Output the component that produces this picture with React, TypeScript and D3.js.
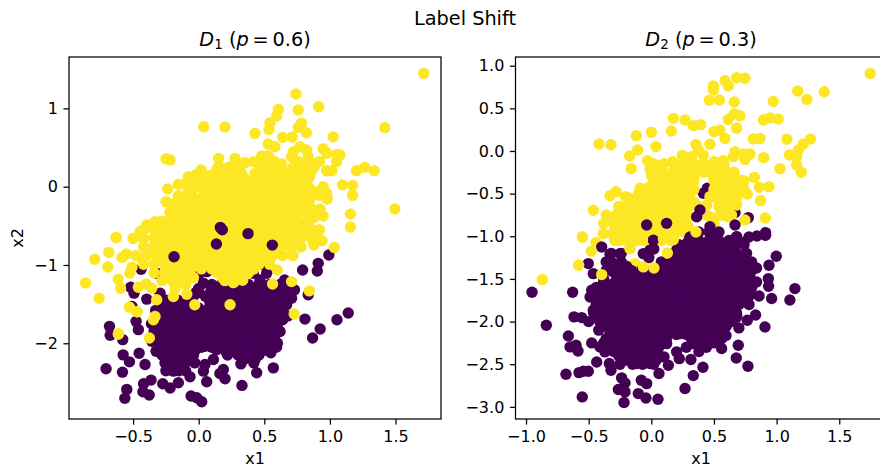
import React, { useRef, useEffect } from 'react';
import * as d3 from 'd3';

type Pt = [number, number];

const PURPLE = '#440154';
const YELLOW = '#fde725';

const row = (y: number, xs: number[]): Pt[] => xs.map(x => [x, y] as Pt);

// D1 panel: drawn back to front
const d1Purple: Pt[] = [
  [.992,-.873],[.911,-.979],[.904,-1.076],[.792,-1.064],[.655,-1.191],[.492,-.992],[.518,-1.106],[.73,-1.318],[.668,-1.326],[.708,-1.424],
  [.835,-1.381],[.632,-1.551],[.67,-1.508],[1.14,-1.614],[1.054,-1.699],[.81,-1.691],[.926,-1.818],[.868,-1.932],[.607,-1.839],[.594,-2.047],
  [.518,-2.089],[.569,-2.314],[.442,-2.377],[.429,-2.208],[.391,-2.165],[.322,-2.263],[.33,-2.538],[.201,-2.453],[.162,-2.386],[.188,-2.335],
  [.061,-2.492],[.036,-2.356],[.048,-2.271],[.112,-2.208],[.137,-2.081],[.023,-2.746],[-.015,-2.695],[-.058,-2.674],[-.066,-2.428],[-.155,-2.504],
  [-.193,-2.356],[-.257,-2.25],[-.104,-2.25],[-.218,-2.572],[-.274,-2.517],[-.363,-2.47],[-.42,-2.517],[-.425,-2.619],[-.377,-2.661],[-.548,-2.589],
  [-.563,-2.703],[-.581,-2.369],[-.706,-2.326],[-.528,-2.237],[-.576,-2.148],[-.454,-2.127],[-.409,-2.271],[-.325,-2.102],[-.68,-1.784],[-.675,-1.898],
  [-.579,-1.953],[-.46,-1.826],[-.477,-1.72],[-.358,-1.975],[-.508,-1.53],[-.396,-1.436],[-.328,-1.58],[-.493,-1.36],[-.518,-1.284],[-.439,-1.055],
  [-.32,-1.106],[-.294,-1.36],[-.231,-1.466],[-.244,-1.614],[-.117,-1.572],[-.193,-1.742],[-.269,-1.869],[-.168,-1.911],[-.269,-2.038],[-.142,-2.08],
  [-.041,-1.953],[.048,-2.038],[.01,-1.742],[.112,-1.614],[-.015,-1.36],[-.003,-1.127],[.061,-1.085],[.036,-1.233],[.163,-1.318],[.315,-1.36],
  [.365,-1.275],[.467,-1.191],[.416,-1.106],[.442,-1.445],[.543,-1.614],[.492,-1.742],[.543,-1.953],[.416,-2.038],[.289,-2.123],[.213,-2.123],
  [.239,-1.826],[.137,-1.784],[.086,-1.48],[.34,-1.61],[.34,-1.86],[-.04,-1.65],[-.117,-1.78],[.112,-1.95],[.239,-1.99],[.467,-1.86],
  [.569,-1.7],[.213,-1.48],[-.193,-2.2],[-.218,-2.08],[.391,-1.48],[.061,-1.82],[-.09,-1.47],[.3,-1.25],[.18,-1.22],[.4,-1.68],
  [.27,-1.72],[.65,-1.65],[-.3,-1.72],[-.1,-1.9],[.33,-2.0],[.46,-2.12],[.55,-2.12],[.15,-1.68],[-.03,-2.1],[.59,-1.45],
  ...row(-1.25, [.1,.2,.38,.46,.54,.62]),
  ...row(-1.3, [0,.1,.2,.3,.42,.5,.58]),
  ...row(-1.35, [-.02,.09,.17,.25,.33,.41,.49,.57,.65]),
  ...row(-1.4, [-.04,.05,.13,.21,.29,.37,.45,.53,.6]),
  ...row(-1.45, [-.25,-.16,.09,.17,.25,.33,.41,.49,.57,.65]),
  ...row(-1.5, [-.2,-.12,.13,.21,.29,.37,.45,.53,.61]),
  ...row(-1.55, [-.3,-.24,-.16,-.08,0,.08,.16,.24,.32,.4,.48,.56,.64]),
  ...row(-1.6, [-.2,-.12,-.04,.04,.2,.28,.36,.44,.52,.6]),
  ...row(-1.65, [-.3,-.2,-.12,-.04,.04,.12,.2,.28,.36,.44,.52,.6,.68]),
  ...row(-1.7, [-.24,-.16,-.08,0,.08,.16,.24,.32,.4,.48,.56,.64]),
  ...row(-1.75, [-.36,-.28,-.2,-.12,-.04,.04,.12,.2,.28,.36,.44,.52,.6]),
  ...row(-1.8, [-.28,-.2,-.12,-.04,.04,.12,.2,.28,.36,.44,.52,.6]),
  ...row(-1.85, [-.34,-.26,-.18,-.1,-.02,.06,.14,.22,.3,.38,.46,.54,.62]),
  ...row(-1.9, [-.32,-.24,-.16,-.08,0,.08,.16,.24,.32,.4,.48,.56]),
  ...row(-1.95, [-.3,-.22,-.14,-.06,.02,.1,.18,.26,.34,.42,.5,.58]),
  ...row(-2, [-.28,-.2,-.12,-.04,.04,.12,.2,.28,.36,.44,.52,.6]),
  ...row(-2.05, [-.3,-.22,-.14,-.06,.02,.1,.18,.26,.34,.42,.5,.58]),
  ...row(-2.1, [-.3,-.22,-.14,-.06,.22,.3,.38,.46,.54]),
  ...row(-2.15, [-.28,-.2,-.12,-.04,.22,.3,.38,.46]),
  ...row(-2.2, [-.25,-.17,-.1,.35,.42]),
  ...row(-2.25, [-.2,-.12,-.03,.42]),
  ...row(-2.3, [-.2,-.12]),
  ...row(-2.35, [-.25,-.15,-.1]),
];
const d1Yellow: Pt[] = [
  [1.716,1.447],[.741,1.183],[.914,1.021],[.607,.987],[.759,.979],[.594,.902],[.543,.817],[.784,.809],[.536,.732],[.038,.766],
  [.2,.762],[.429,.681],[.759,.757],[.822,.689],[1.419,.753],[1.025,.634],[.64,.63],[.713,.634],[.53,.545],[.581,.511],
  [.772,.511],[.949,.485],[.822,.468],[.721,.447],[.708,.383],[1.051,.409],[1.076,.404],[.975,.426],[.873,.298],[1.051,.319],
  [.835,.383],[-.249,.357],[-.218,.34],[.152,.362],[.277,.362],[.353,.306],[.48,.391],[.53,.391],[.467,.298],[.632,.289],
  [.018,.213],[-.015,.157],[-.079,.128],[.137,.213],[.188,.234],[.264,.213],[.327,.17],[.429,.17],[.569,.213],[1.203,.204],
  [1.266,.247],[1.338,.204],[.975,.204],[1.015,.204],[.741,.213],[.843,.119],[.784,.106],[.594,.094],[.467,.064],[.112,.128],
  [-.053,.021],[-.003,0],[-.155,.03],[-.236,-.03],[-.155,-.115],[-.249,-.191],[-.152,-.255],[-.015,-.2],[.048,-.064],[.124,-.043],
  [.949,0],[1.096,.021],[1.173,.017],[1.173,-.111],[.975,-.085],[.98,-.157],[.853,-.14],[.695,.013],[.759,0],[1.495,-.285],
  [1.157,-.349],[1.157,-.515],[.949,-.374],[.924,-.289],[.878,-.298],[.797,-.277],[.695,-.234],[.619,-.17],[.518,-.085],[.365,-.043],
  [.213,-.128],[.315,.043],[.239,.043],[-.071,-.319],[-.142,-.319],[.086,-.234],[.036,-.34],[.188,-.362],[.289,-.255],[.416,-.255],
  [.569,-.298],[.67,-.426],[.797,-.468],[.835,-.596],[.898,-.617],[.734,-.617],[-.332,-.447],[-.396,-.489],[-.307,-.532],[-.447,-.574],
  [-.629,-.651],[-.129,-.468],[-.155,-.574],[-.066,-.426],[.061,-.468],[.315,-.426],[.467,-.426],[.594,-.468],[.213,-.51],
  [-.629,-.648],[-.434,-.64],[-.32,-.62],[-.685,-.839],[-.551,-.86],[-.584,-.903],[-.792,-.928],[-.693,-1.025],[-.508,-1.03],[-.525,-1.106],
  [-.863,-1.229],[-.614,-1.182],[-.596,-1.297],[-.759,-1.424],[-.401,-1.242],[-.358,-1.297],[-.46,-1.284],[-.32,-1.445],[-.528,-1.538],[-.47,-1.597],
  [-.345,-1.7],[-.612,-1.881],[-.376,-1.932],[-.333,-1.657],[-.193,-1.403],[-.091,-1.373],[.264,-1.225],[.335,-1.191],[.563,-1.242],[.708,-1.212],
  [1.033,-.775],[.94,-.691],[.878,-.746],[.714,-.873],[.619,-.852],[.805,-.597],[.893,-.619],[.708,-.746],[-.424,-.945],[-.345,-.767],
  [-.294,-.936],[-.218,-1.021],[-.168,-1.148],[-.18,-1.297],[-.091,-1.106],[-.041,-.979],[.061,-.894],[.213,-1.106],[.289,-1.021],[.365,-.979],
  [.441,-.852],[.518,-.767],[.594,-.682],[-.168,-.809],[-.041,-.725],[.01,-.597],[.163,-.852],[.264,-.767],[.365,-.682],[.467,-.619],
  [-.269,-.682],[-.218,-.6],[-.32,-.852],
  ...row(.32, [.42,.5,.58,.76,.84,.92]),
  ...row(.25, [.15,.23,.31,.47,.55,.72,.8,.88]),
  ...row(.2, [.2,.28,.5,.62,.7,.78,.86]),
  ...row(.14, [-.02,.08,.16,.24,.32,.5,.58,.66,.74,.82]),
  ...row(.09, [.04,.12,.2,.28,.36,.44,.52,.6,.68,.76]),
  ...row(.04, [-.1,.06,.14,.22,.3,.38,.46,.54,.62,.72]),
  ...row(-.01, [.02,.1,.18,.26,.34,.42,.5,.58,.66,.8,.84]),
  ...row(-.06, [-.08,.1,.18,.26,.34,.42,.5,.58,.66,.74,.88]),
  ...row(-.11, [-.05,.04,.12,.2,.28,.36,.44,.52,.6,.68,.76,.84,.92]),
  ...row(-.17, [-.1,0,.08,.16,.24,.32,.4,.48,.56,.64,.72,.8]),
  ...row(-.22, [-.2,-.12,-.04,.04,.12,.2,.28,.36,.44,.52,.6,.68,.76,.84]),
  ...row(-.28, [-.15,-.06,.02,.1,.18,.26,.34,.42,.5,.58,.66,.74,.82]),
  ...row(-.33, [-.22,-.14,-.06,.02,.1,.18,.26,.34,.42,.5,.58,.66,.74,.82,.9]),
  ...row(-.39, [-.2,-.1,-.02,.06,.14,.22,.3,.38,.46,.54,.62,.7,.88]),
  ...row(-.44, [-.28,-.2,-.12,-.04,.04,.12,.2,.28,.36,.44,.52,.6,.68,.76,.84]),
  ...row(-.5, [-.22,-.14,-.06,.02,.1,.18,.26,.34,.42,.5,.58,.66,.74]),
  ...row(-.55, [-.42,-.34,-.26,-.18,-.1,-.02,.06,.14,.22,.3,.38,.46,.54,.62,.7,.78,.86,.92]),
  ...row(-.6, [-.26,-.18,-.1,-.02,.06,.14,.22,.3,.38,.46,.54,.62,.7,.78]),
  ...row(-.66, [-.5,-.42,-.34,-.26,-.18,-.1,-.02,.06,.14,.22,.3,.38,.46,.54,.62,.7,.78,.86]),
  ...row(-.72, [-.3,-.22,-.14,-.06,.02,.1,.18,.26,.34,.42,.5,.58,.66]),
  ...row(-.77, [-.42,-.34,-.26,-.18,-.1,-.02,.06,.14,.22,.3,.38,.46,.54,.62,.7,.78]),
  ...row(-.83, [-.28,-.2,-.12,-.04,.04,.12,.2,.28,.36,.44,.52,.6]),
  ...row(-.88, [-.48,-.4,-.32,-.24,-.16,-.08,0,.08,.16,.24,.32,.4,.48,.56,.64,.72]),
  ...row(-.94, [-.26,-.18,-.1,-.02,.06,.14,.22,.3,.38,.46,.54]),
  ...row(-.99, [-.42,-.34,-.26,-.18,-.1,-.02,.06,.14,.22,.3,.38,.46,.54]),
  ...row(-1.05, [-.22,-.14,-.06,.02,.1,.18,.26,.34,.42]),
  ...row(-1.1, [-.34,-.26,-.18,-.1,.14,.22,.3,.38]),
  ...row(-1.16, [-.2,-.12,-.04,.18,.26,.3]),
  ...row(-1.2, [-.28,-.2,-.12,.2,.28]),
  ...row(-1.25, [-.17,-.1]),
];
const d1PurpleTop: Pt[] = [[-.188,-.894],[.135,-.733],[.376,-.6],[.561,-.746],[.165,-.52],[.18,-.55]];
const d1YellowTop: Pt[] = [[.239,-1.508],[-.03,-1.508],[.599,-1.064],[.843,-1.331],[.728,-1.627],[.264,-1.225],[.335,-1.191],[-.47,-1.597],[-.612,-1.881]];

// D2 panel: drawn back to front
const d2PurpleBack: Pt[] = [[.016,-.652],[.415,-.496],[.447,-.4375],[.774,-.781],[.2,-.67],[.668,-.72],[.16,-.72]];
const d2Yellow: Pt[] = [
  [1.747,.91],[.681,.859],[.747,.852],[.588,.824],[.614,.762],[.495,.762],[.495,.715],[.463,.594],[.543,.598],[.662,.574],
  [.973,.582],[1.168,.703],[1.242,.605],[1.38,.695],[.176,.383],[.269,.363],[.335,.297],[.394,.309],[.662,.434],[.707,.414],
  [.614,.371],[.681,.266],[.894,.363],[.947,.387],[1.013,.375],[.16,.234],[0,.219],[-.12,.18],[-.418,.082],[-.322,.074],
  [.5,.227],[.548,.246],[.588,.148],[.814,.141],[.867,.148],[1.082,.137],[1.271,.141],[1.213,.082],[.468,.078],[.356,.078],
  [.375,.012],[.037,.051],[-.109,.012],[-.173,-.059],[-.029,-.113],[.066,-.184],[-.16,-.207],[-.011,-.215],[.003,-.293],[.17,-.125],
  [.247,-.051],[.322,-.066],[.415,-.047],[.41,-.184],[.255,-.184],[.176,-.262],[.335,-.262],[.5,-.125],[.572,-.113],[.668,-.008],
  [.734,-.035],[.787,-.035],[.747,-.098],[.654,-.066],[.896,-.078],[1.027,-.207],[1.101,-.047],[1.16,-.066],[1.173,.012],[1.16,-.164],
  [1.197,-.25],[.822,-.309],[.707,-.34],[.654,-.293],[.588,-.223],[.495,-.281],[.574,-.359],[.122,-.379],[.229,-.379],[-.09,-.4375],
  [-.011,-.418],[.862,-.426],[.939,-.418],[.734,-.477],[.766,-.504],[.872,-.582],[.614,-.605],[.681,-.633],[.548,-.477],[.468,-.535],
  [.441,-.633],[.548,-.75],[.614,-.77],[.468,-.77],[.91,-.785],[.747,-.809],[-.282,-.477],[-.33,-.523],[-.205,-.535],[-.463,-.695],
  [-.277,-.75],[-.205,-.652],[-.117,-.574],[-.011,-.574],[.122,-.496],[.202,-.457],[.309,-.496],[.096,-.652],[.229,-.672],[.282,-.73],
  [.016,-.73],[-.144,-.809],[-.223,-.809],[.176,-.77],[-.011,-.809],[-.55,-1.008],[-.383,-.969],[-.29,-1.047],[-.197,-.988],[-.17,-1.145],
  [.096,-1.027],[.176,-1.039],[-.13,-1.32],[-.197,-1.508],[-.29,-1.32],[-.33,-1.652],[-.037,-1.613],[-.157,-1.848],[.495,-1.184],[.508,-1.262],
  [.122,-1.43],[-.441,-1.074],
  ...row(-.15, [.02,.1,.18,.26,.34,.42,.5,.58]),
  ...row(-.2, [.2,.28,.36,.44,.52]),
  ...row(-.25, [.02,.1,.18,.26,.34,.42,.5,.58,.66]),
  ...row(-.3, [.1,.18,.26,.34,.5,.58,.66]),
  ...row(-.35, [.02,.1,.18,.26,.34,.5,.58,.66,.74]),
  ...row(-.4, [.06,.14,.22,.3,.52,.6,.68]),
  ...row(-.45, [-.06,.02,.1,.18,.26,.34,.5,.58,.66,.74]),
  ...row(-.5, [-.1,-.02,.06,.14,.22,.3,.5,.58]),
  ...row(-.55, [-.18,-.1,-.02,.06,.14,.22,.3,.52,.6,.68]),
  ...row(-.6, [-.14,-.06,.02,.1,.18,.26,.34]),
  ...row(-.65, [-.26,-.18,-.1,-.02,.06,.14,.22,.3,.38,.54,.62]),
  ...row(-.7, [-.2,-.12,-.04,.04,.12,.2,.28]),
  ...row(-.75, [-.36,-.28,-.2,-.12,-.04,.04,.12,.2,.28,.44,.56,.64]),
  ...row(-.8, [-.28,-.2,-.12,-.04,.04,.12,.2,.28]),
  ...row(-.85, [-.38,-.3,-.22,-.14,-.06,.02,.1,.18,.26,.5]),
  ...row(-.9, [-.26,-.18,-.1,-.02,.06,.14,.22,.3]),
  ...row(-.95, [-.3,-.22,-.14,-.06,.02,.1,.18,.26,.3]),
  ...row(-1, [-.3,-.22,-.14,-.06,.02,.1,.18]),
  ...row(-1.05, [-.26,-.2,-.12,-.04,.08,.16]),
];
const d2Purple: Pt[] = [
  [-.952,-1.656],[-.628,-1.656],[-.838,-2.043],[-.662,-2.168],[-.649,-2.297],[-.601,-2.277],[-.585,-2.344],[-.681,-2.617],[-.577,-2.598],[-.543,-2.582],
  [-.503,-2.582],[-.551,-2.883],[-.436,-2.473],[-.335,-2.492],[-.322,-2.57],[-.237,-2.66],[-.21,-2.719],[-.263,-2.797],[-.21,-2.824],[-.218,-2.949],
  [-.104,-2.844],[-.043,-2.895],[.053,-2.91],[-.08,-2.688],[-.037,-2.727],[.061,-2.609],[.136,-2.512],[.101,-2.414],[.269,-2.785],[.335,-2.633],
  [.412,-2.535],[.316,-2.445],[.223,-2.434],[.202,-2.355],[.122,-2.258],[.561,-2.316],[.678,-2.426],[.771,-2.523],[.694,-2.277],[.596,-2.164],
  [.907,-2.063],[.699,-2.074],[.766,-1.984],[.832,-1.922],[.96,-1.73],[1.106,-1.746],[1.146,-1.613],[.936,-1.586],[.934,-1.496],[.84,-1.535],
  [.787,-1.477],[.84,-1.371],[.939,-1.34],[.997,-1.234],[.753,-1.211],[.707,-1.352],[.787,-1.633],[.747,-1.75],[.681,-1.926],[.912,-.988],
  [.843,-.996],[.779,-1.008],[.734,-1.074],[.681,-1.008],[-.503,-1.32],[-.463,-1.438],[-.396,-1.125],[-.33,-1.211],[-.25,-1.203],[-.476,-1.633],
  [-.489,-1.711],[-.617,-1.945],[-.556,-1.953],[-.463,-1.867],[-.41,-2.004],[-.476,-2.25],[-.41,-2.297],[-.33,-2.121],[-.37,-2.355],[-.303,-2.336],
  [-.197,-2.297],[-.223,-2.414],[-.117,-2.492],[-.011,-2.492],[.016,-2.375],[-.064,-2.18],[.069,-2.141],[-.17,-2.141],[.229,-2.141],[.335,-2.258],
  [.441,-2.277],[.521,-2.141],[.574,-1.906],[.628,-1.945],[.468,-2.023],[.335,-2.023],[.176,-2.023],[.016,-2.023],[-.144,-2.023],[-.303,-1.945],
  [-.383,-1.789],[-.277,-1.711],[-.144,-1.672],[.016,-1.789],[.176,-1.789],[.335,-1.789],[.495,-1.75],[.654,-1.711],[-.383,-1.555],[-.25,-1.516],
  [-.303,-1.418],[-.09,-1.477],[.069,-1.555],[.229,-1.516],[.388,-1.555],[.548,-1.516],[.681,-1.516],[-.197,-1.359],[.149,-1.32],[.282,-1.281],
  [.441,-1.32],[.601,-1.32],[.282,-1.086],[.468,-1.047],[.574,-1.164],[.628,-1.242],[-.011,-1.164],[-.064,-1.203],[.016,-1.047],[.202,-1.164],
  [.388,-1.164],[.521,-.969],[.309,-1.008],[.468,-.887],[.362,-.77],[.388,-.691],[-.037,-.867],[.122,-.848],[.668,-.867],[.912,-.957],
  [.681,-1.004],
  ...row(-.95, [.38,.46,.54]),
  ...row(-1.05, [.3,.38,.46,.54,.62]),
  ...row(-1.1, [.22,.34,.42,.5,.58,.66,.74]),
  ...row(-1.15, [.02,.26,.34,.42,.5,.58,.66]),
  ...row(-1.2, [-.32,-.24,.2,.28,.36,.44,.52,.6,.68,.76]),
  ...row(-1.25, [-.02,.22,.3,.38,.46,.54,.62,.7]),
  ...row(-1.3, [-.36,-.32,-.24,.08,.16,.24,.32,.4,.48,.56,.64,.72,.8]),
  ...row(-1.35, [-.28,-.2,.12,.2,.28,.36,.44,.52,.6,.68,.76]),
  ...row(-1.4, [-.36,-.24,-.16,-.08,0,.08,.16,.24,.32,.4,.48,.56,.64,.72,.8]),
  ...row(-1.45, [-.28,-.2,-.12,-.04,.04,.12,.2,.28,.36,.44,.52,.6,.68,.76]),
  ...row(-1.5, [-.38,-.26,-.18,-.1,-.02,.06,.14,.22,.3,.38,.46,.54,.62,.7,.78]),
  ...row(-1.55, [-.3,-.22,-.14,-.06,.02,.1,.18,.26,.34,.42,.5,.58,.66,.74]),
  ...row(-1.6, [-.44,-.32,-.24,-.16,-.08,0,.08,.16,.24,.32,.4,.48,.56,.64,.72,.8]),
  ...row(-1.65, [-.36,-.28,-.2,-.12,-.04,.04,.12,.2,.28,.36,.44,.52,.6,.68,.76]),
  ...row(-1.7, [-.42,-.34,-.26,-.18,-.1,-.02,.06,.14,.22,.3,.38,.46,.54,.62,.7,.78,.86]),
  ...row(-1.75, [-.38,-.3,-.22,-.14,-.06,.02,.1,.18,.26,.34,.42,.5,.58,.66]),
  ...row(-1.8, [-.44,-.36,-.28,-.2,-.12,-.04,.04,.12,.2,.28,.36,.44,.52,.6,.7,.78]),
  ...row(-1.85, [-.4,-.32,-.24,-.16,-.08,0,.08,.16,.24,.32,.4,.48,.56,.64]),
  ...row(-1.9, [-.46,-.36,-.28,-.2,-.12,-.04,.04,.12,.2,.28,.36,.44,.52,.6,.68]),
  ...row(-1.95, [-.44,-.36,-.28,-.2,-.12,-.04,.04,.12,.2,.28,.36,.44,.52,.6,.68]),
  ...row(-2, [-.5,-.4,-.32,-.24,-.16,-.08,0,.08,.16,.24,.32,.4,.48,.56,.64]),
  ...row(-2.05, [-.36,-.28,-.2,-.12,-.04,.04,.12,.2,.28,.36,.44,.52,.6]),
  ...row(-2.1, [-.42,-.32,-.24,-.16,-.08,0,.08,.16,.24,.32,.4,.48,.56]),
  ...row(-2.15, [-.28,-.2,-.12,-.04,.04,.12,.2,.28,.36,.44,.52]),
  ...row(-2.2, [-.36,-.28,-.2,-.12,-.04,.04,.12,.32,.4,.48,.56]),
  ...row(-2.25, [-.38,-.3,-.22,-.14,-.06,.02,.1,.34,.42,.5]),
  ...row(-2.3, [-.34,-.26,-.18,-.1,-.02,.06,.28,.44]),
  ...row(-2.35, [-.3,-.22,-.14,-.06,.38]),
  ...row(-2.4, [-.26,-.18,-.1,-.02,.06]),
  ...row(-2.45, [-.2,-.12,-.04,.04]),
  ...row(-2.5, [-.25,-.15,-.07,.02]),
];
const d2YellowTop: Pt[] = [
  [-.55,-1.008],[-.479,-1.176],[-.58,-1.34],[-.87,-1.508],[-.396,-1.449],[-.197,-.988],[-.072,-1.047],[.128,-1.195],[-.064,-1.359],[.021,-1.371],[.356,-.949],
  [.096,-1.027],[.176,-1.039],[-.29,-1.047],[-.17,-1.145],
];

const d1TicksX = [-0.5, 0, 0.5, 1, 1.5];
const d1TicksY = [-2, -1, 0, 1];
const d2TicksX = [-1, -0.5, 0, 0.5, 1, 1.5];
const d2TicksY = [-3, -2.5, -2, -1.5, -1, -0.5, 0, 0.5, 1];

const FONT = '"DejaVu Sans", sans-serif';
const minus = (s: string) => s.replace('-', '\u2212');

const App = () => {
  const ref = useRef<SVGSVGElement | null>(null);

  useEffect(() => {
    const svg = d3.select(ref.current);
    svg.selectAll('*').remove();
    const top = 57, bottom = 419;

    const panel = (left: number, right: number, xDomain: number[], yDomain: number[],
      ticksX: number[], ticksY: number[], fmt: string, layers: [Pt[], string][]) => {
      const x = d3.scaleLinear().domain(xDomain).range([left, right]);
      const y = d3.scaleLinear().domain(yDomain).range([bottom, top]);

      layers.forEach(([pts, color]) => {
        svg.append('g').selectAll('circle').data(pts).enter().append('circle')
          .attr('cx', d => x(d[0])).attr('cy', d => y(d[1])).attr('r', 5.7).attr('fill', color);
      });

      const xAxis = d3.axisBottom(x).tickValues(ticksX).tickSize(5.6).tickPadding(6.3)
        .tickFormat(d => minus(d3.format('.1f')(d as number)));
      const yAxis = d3.axisLeft(y).tickValues(ticksY).tickSize(5.6).tickPadding(5.6)
        .tickFormat(d => minus(d3.format(fmt)(d as number)));
      const gx = svg.append('g').attr('transform', `translate(0,${bottom})`).call(xAxis);
      const gy = svg.append('g').attr('transform', `translate(${left},0)`).call(yAxis);
      [gx, gy].forEach(g => {
        g.select('.domain').remove();
        g.selectAll('text').attr('font-family', FONT).attr('font-size', 16).attr('fill', '#000');
        g.selectAll('line').attr('stroke', '#000').attr('stroke-width', 1.25);
      });
      svg.append('rect').attr('x', left).attr('y', top).attr('width', right - left).attr('height', bottom - top)
        .attr('fill', 'none').attr('stroke', '#000').attr('stroke-width', 1.25);
    };

    panel(69, 441, [-0.9886, 1.847], [-2.967, 1.656], d1TicksX, d1TicksY, 'd',
      [[d1Purple, PURPLE], [d1Yellow, YELLOW], [d1PurpleTop, PURPLE], [d1YellowTop, YELLOW]]);
    panel(515.5, 886.5, [-1.084, 1.877], [-3.142, 1.102], d2TicksX, d2TicksY, '.1f',
      [[d2PurpleBack, PURPLE], [d2Yellow, YELLOW], [d2Purple, PURPLE], [d2YellowTop, YELLOW]]);

    const label = (tx: number, ty: number, size: number, anchor = 'middle') =>
      svg.append('text').attr('x', tx).attr('y', ty).attr('font-family', FONT)
        .attr('font-size', size).attr('text-anchor', anchor).attr('fill', '#000');

    label(465, 25, 19.3).text('Label Shift');

    const title = (cx: number, sub: string, val: string) => {
      const t = label(cx, 46, 19.3);
      t.append('tspan').attr('font-style', 'italic').text('D');
      t.append('tspan').attr('font-size', 13.5).attr('dy', 3).text(sub);
      t.append('tspan').attr('dy', -3).text(' (');
      t.append('tspan').attr('font-style', 'italic').text('p');
      t.append('tspan').text(`\u2009=\u2009${val})`);
    };
    title(255, '1', '0.6');
    title(701, '2', '0.3');

    label(255, 464, 16).text('x1');
    label(701, 464, 16).text('x1');
    label(0, 0, 16).attr('transform', 'translate(23,238) rotate(-90)').text('x2');
  }, []);

  return <svg ref={ref} width={880} height={471} style={{ position: 'absolute', left: 0, top: 0, background: '#fff' }} />;
};

export default App;
